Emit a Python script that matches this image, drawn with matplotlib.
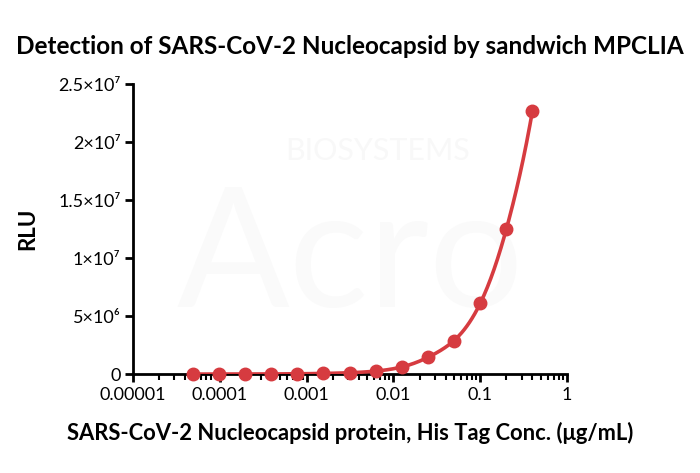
import numpy as np
import matplotlib
matplotlib.use('Agg')
import matplotlib.pyplot as plt
from matplotlib.ticker import FixedLocator, LogLocator, NullFormatter

plt.rcParams['font.family'] = ['Lato', 'DejaVu Sans']

# data
conc = [0.4 / 2 ** k for k in range(13, -1, -1)]
rlu = [3e3, 5e3, 8e3, 1.5e4, 3e4, 6e4, 1.2e5, 2.6e5, 6.2e5,
       1.45e6, 2.9e6, 6.1e6, 1.25e7, 2.27e7]
y_ticks = [0, 5e6, 1e7, 1.5e7, 2e7, 2.5e7]
y_labels = ['0', '5×10⁶', '1×10⁷', '1.5×10⁷', '2×10⁷', '2.5×10⁷']
x_ticks = [1e-5, 1e-4, 1e-3, 1e-2, 1e-1, 1]
x_labels = ['0.00001', '0.0001', '0.001', '0.01', '0.1', '1']

red = '#d63b40'


def spline(x, y, xn):
    # natural cubic spline, used for the smooth fit line
    x = np.asarray(x, float)
    y = np.asarray(y, float)
    n = len(x)
    h = np.diff(x)
    A = np.zeros((n, n))
    b = np.zeros(n)
    A[0, 0] = A[-1, -1] = 1
    for i in range(1, n - 1):
        A[i, i - 1] = h[i - 1]
        A[i, i] = 2 * (h[i - 1] + h[i])
        A[i, i + 1] = h[i]
        b[i] = 3 * ((y[i + 1] - y[i]) / h[i] - (y[i] - y[i - 1]) / h[i - 1])
    c = np.linalg.solve(A, b)
    idx = np.clip(np.searchsorted(x, xn) - 1, 0, n - 2)
    bb = (y[1:] - y[:-1]) / h - h * (2 * c[:-1] + c[1:]) / 3
    d = (c[1:] - c[:-1]) / (3 * h)
    t = xn - x[idx]
    return y[idx] + bb[idx] * t + c[idx] * t ** 2 + d[idx] * t ** 3


fig = plt.figure(figsize=(7, 4.73), dpi=100)

# faint watermark, behind the axes
fig.text(0.54, 0.68, 'BIOSYSTEMS', fontsize=22, color='#f8f8f8', ha='center', va='center', zorder=0)
fig.text(0.5, 0.45, 'Acro', fontsize=120, color='#fafafa', ha='center', va='center', zorder=0)

ax = fig.add_axes([0.19, 0.209, 0.62, 0.613])
ax.set_zorder(2)

lx = np.log10(conc)
xs = np.linspace(lx[0], lx[-1], 400)
ys = 10 ** spline(lx, np.log10(rlu), xs)
ax.plot(10 ** xs, ys, color=red, linewidth=2.6, zorder=3)
ax.plot(conc, rlu, 'o', color=red, markersize=9, zorder=4, clip_on=False)

ax.set_xscale('log')
ax.set_xlim(1e-5, 1)
ax.set_ylim(0, 2.5e7)
ax.patch.set_alpha(0)

ax.xaxis.set_major_locator(FixedLocator(x_ticks))
ax.set_xticklabels(x_labels)
ax.xaxis.set_minor_locator(LogLocator(base=10, subs=np.arange(2, 10)))
ax.xaxis.set_minor_formatter(NullFormatter())

ax.yaxis.set_major_locator(FixedLocator(y_ticks))
ax.set_yticklabels(y_labels)

for s in ['top', 'right']:
    ax.spines[s].set_visible(False)
for s in ['left', 'bottom']:
    ax.spines[s].set_linewidth(2)
ax.tick_params(which='major', length=6, width=2, labelsize=13, pad=3)
ax.tick_params(axis='x', which='minor', length=4, width=1.5)

ax.set_xlabel('SARS-CoV-2 Nucleocapsid protein, His Tag Conc. (μg/mL)',
              fontsize=15.8, fontweight='bold', labelpad=14)
ax.set_ylabel('RLU', fontsize=16, fontweight='bold', labelpad=14)
fig.suptitle('Detection of SARS-CoV-2 Nucleocapsid by sandwich MPCLIA',
             fontsize=17.5, fontweight='bold', y=0.925)

fig.savefig('out.png', dpi=100)
